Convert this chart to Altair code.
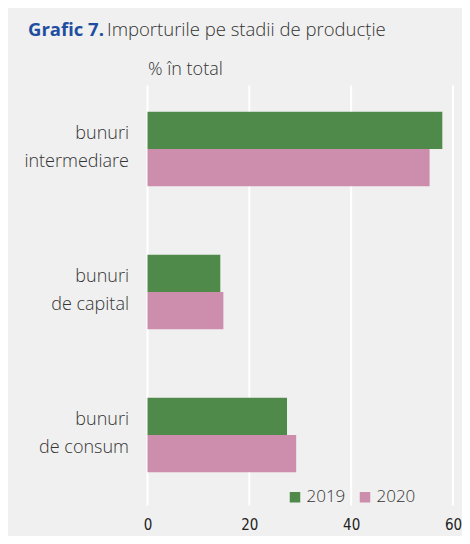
import altair as alt
import pandas as pd

categories = ["bunuri|intermediare", "bunuri|de capital", "bunuri|de consum"]
years = ["2019", "2020"]
v2019 = [57.9, 14.3, 27.4]
v2020 = [55.4, 14.9, 29.2]
ticks = [0, 20, 40, 60]
colors = ["#4f8a4b", "#cd8dac"]

rows = []
for c, a, b in zip(categories, v2019, v2020):
    rows.append({"cat": c, "year": "2019", "value": a})
    rows.append({"cat": c, "year": "2020", "value": b})
df = pd.DataFrame(rows)
grid_df = pd.DataFrame({"value": ticks})

W, H = 305.5, 429

xaxis = alt.Axis(values=ticks, grid=False, domain=False, ticks=False, labelFlush=False,
                 labelFont="'DejaVu Sans Condensed', Roboto", labelFontWeight=500,
                 labelFontSize=15, labelColor="#222", labelPadding=11, title=None)
xscale = alt.Scale(domain=[0, 60], nice=False)

grid = alt.Chart(grid_df).mark_rule(color="white", strokeWidth=2).encode(
    x=alt.X("value:Q", scale=xscale, axis=xaxis),
    y=alt.value(8),
    y2=alt.value(H - 1),
)

bars = alt.Chart(df).mark_bar().encode(
    x=alt.X("value:Q", scale=xscale, axis=xaxis),
    y=alt.Y("cat:N", sort=categories,
            scale=alt.Scale(paddingInner=0.48, paddingOuter=0.24),
            axis=alt.Axis(title=None, domain=False, ticks=False,
                          labelExpr="split(datum.label, '|')",
                          labelFont="Open Sans", labelFontSize=18, labelFontWeight=300,
                          labelColor="#333", labelLineHeight=28,
                          labelPadding=19, labelAlign="right",
                          labelBaseline="middle", labelOffset=-15)),
    yOffset=alt.YOffset("year:N", sort=years, scale=alt.Scale(paddingInner=0, paddingOuter=0)),
    color=alt.Color("year:N", sort=years,
                    scale=alt.Scale(domain=years, range=colors),
                    legend=alt.Legend(title=None, orient="none", direction="horizontal",
                                      legendX=139, legendY=411,
                                      symbolType="square", symbolSize=110,
                                      symbolStrokeWidth=0, symbolOpacity=1,
                                      labelFont="Open Sans", labelFontSize=17, labelFontWeight=300,
                                      labelColor="#333", columnPadding=11,
                                      labelOffset=3)),
)

t1 = alt.Chart(pd.DataFrame({"t": ["Grafic 7."]})).mark_text(
    align="left", baseline="middle", font="Open Sans", fontWeight="bold",
    fontSize=18.5, color="#1f4ea0").encode(
    text="t:N", x=alt.value(-119.5), y=alt.value(-47.5))

t2 = alt.Chart(pd.DataFrame({"t": ["Importurile pe stadii de producție"]})).mark_text(
    align="left", baseline="middle", font="Open Sans", fontWeight=300,
    fontSize=18.5, color="#333").encode(
    text="t:N", x=alt.value(-40.5), y=alt.value(-47.5))

t3 = alt.Chart(pd.DataFrame({"t": ["% în total"]})).mark_text(
    align="left", baseline="middle", font="Open Sans", fontWeight=300,
    fontSize=18, color="#333").encode(
    text="t:N", x=alt.value(0.5), y=alt.value(-8))

chart = alt.layer(grid, bars, t1, t2, t3).properties(
    width=W, height=H,
    autosize=alt.AutoSizeParams(type="none"),
    padding={"left": 139.5, "top": 69.5, "right": 9, "bottom": 29.5},
    background="#f0f0f0",
).configure_view(stroke=None)

chart.save("out.html", embed_options={"renderer": "svg", "actions": False})
